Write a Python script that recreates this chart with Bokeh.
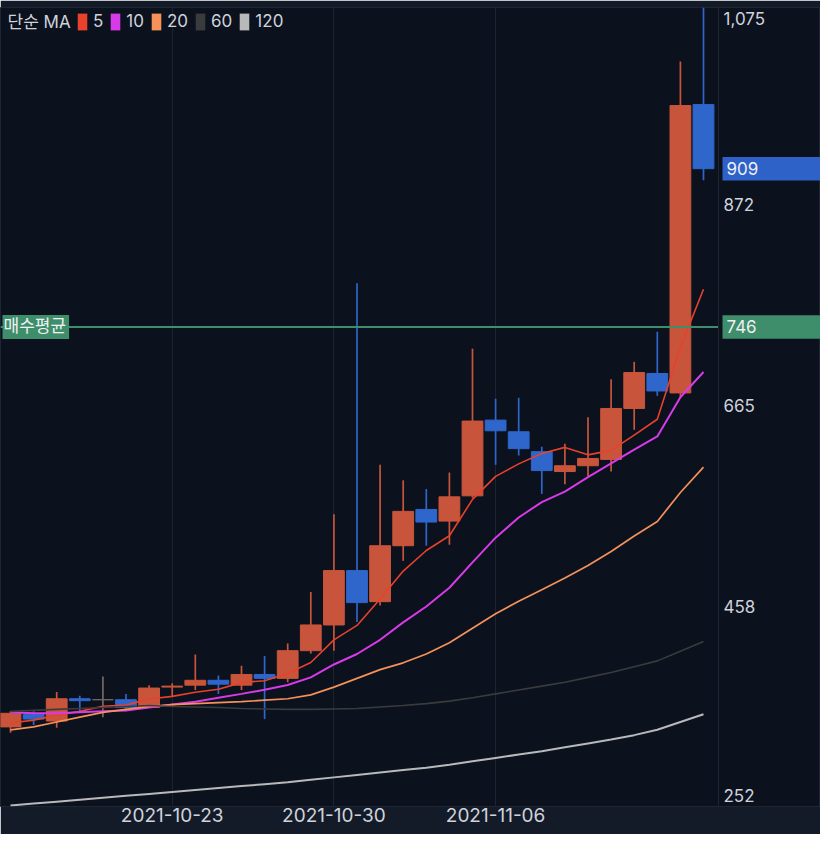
import pandas as pd
from bokeh.plotting import figure
from bokeh.models import (ColumnDataSource, Range1d, FixedTicker, Span, Label,
                          Legend, LegendItem)
from bokeh.core.properties import value
from bokeh.embed import file_html
from bokeh.resources import INLINE

# ---------------- data ----------------
dates = pd.date_range("2021-10-16", "2021-11-15", freq="D").strftime("%Y-%m-%d").tolist()

opens  = [334, 347, 340, 363, 362, 362, 354, 375, 377, 382, 377, 388, 384, 412.5, 439,
          495, 463, 520.6, 558, 546, 572, 650, 638, 617.5, 597, 603, 609.5, 662, 698, 678, 975]
highs  = [350, 350, 370, 366, 386, 368, 377, 379, 408.5, 387, 397, 407, 420, 473, 553,
          791, 604, 588, 579, 596, 723.6, 672, 673, 622.6, 625.6, 653, 692, 710, 741, 1019.5, 1075]
lows   = [328, 336, 333, 350, 344, 350, 354, 365, 372, 368, 372, 342, 380, 409.5, 412.5,
          442, 459, 505, 520.6, 521.6, 570, 604, 613.5, 574, 584, 592, 597, 640, 675, 673, 897]
closes = [348, 342, 363, 361, 362, 354, 374, 376, 382, 378, 388, 384, 412.5, 439, 495,
          462, 520.6, 556, 545, 571, 649, 639, 620.6, 598, 603, 610.5, 662, 699, 680, 974, 909]

ma5   = [338, 341, 346, 350, 355.2, 356.4, 362.8, 365.4, 369.6, 372.8, 379.6, 381.6, 388.9,
         400.3, 423.7, 438.5, 465.8, 494.5, 515.7, 530.9, 568.3, 592.0, 604.9, 615.5, 621.9,
         614.2, 618.8, 634.5, 650.9, 725.1, 784.8]
ma10  = [349, 348, 348, 349, 350, 351, 354, 357, 360, 364.0, 368.0, 372.2, 377.2, 385.0,
         398.3, 409.1, 423.7, 441.7, 458.0, 477.3, 503.4, 528.9, 549.7, 565.6, 576.4, 591.3,
         605.4, 619.7, 633.2, 673.5, 699.5]
ma20  = [331, 334, 339, 344, 349, 352, 355, 357, 358, 359, 360, 361.5, 363, 367, 375, 384,
         393, 400, 409, 420.7, 435.7, 450.6, 463.4, 475.3, 487.3, 500.2, 514.6, 530.7, 545.6,
         575.4, 601.5]
ma60  = [350, 351, 352, 353, 354, 355, 356, 355, 354.5, 354, 353, 352.5, 352, 352, 352.5,
         353, 354.5, 356, 358, 360.5, 364, 368, 372, 376, 380, 385, 390, 396, 402, 412, 422]
ma120 = [253, 255, 257, 259, 261, 263, 265, 267, 269, 271, 273, 275, 277, 279.5, 282, 284.5,
         287, 289.5, 292, 295, 298.5, 302, 305.5, 309, 313, 317, 321, 325.5, 331, 339, 347]

ma_labels = ["5", "10", "20", "60", "120"]
date_ticks = ["2021-10-23", "2021-10-30", "2021-11-06"]
price_ticks = [252, 458, 665, 872, 1075]
avg_buy = 746
avg_buy_label = "매수평균"
legend_title = "단순 MA"

# ---------------- style / layout ----------------
BG = "#0b111d"
STRIP = "#141b28"
GRID = "#1c2432"
SEP = "#1e2634"
TXT = "#cfd3dc"
UP, DOWN, FLAT = "#c8553b", "#2f66cc", "#766860"
MA_COLORS = ["#e8412c", "#d83ae8", "#f4925a", "#3b3b3d", "#b9b9bb"]
MA_WIDTHS = [1.6, 2.0, 1.7, 1.6, 2.0]
GREEN = "#3e8e6c"
BLUE_TAG = "#2f62c8"
FONT = "Inter, 'Noto Sans CJK KR', sans-serif"
FS_PRICE = "17px"
FS_DATE = "19px"
FS_LEG = "17px"

W, H = 820, 834
MB_T, MB_B = 7, 28
FW, FH = W, H - MB_T - MB_B
DAY_PX = 23.1           # pixels per candle
PRICE_W = 102           # width of the price scale strip on the right
x_start = -10 / DAY_PX
x_end = x_start + FW / DAY_PX
x_sep = x_start + (FW - PRICE_W) / DAY_PX
ylo, yhi = min(price_ticks), max(price_ticks)
px_x = (x_end - x_start) / FW
px_y = (yhi - ylo) / FH

idx = list(range(len(dates)))
colors = [UP if c > o else DOWN if c < o else FLAT for o, c in zip(opens, closes)]
src = ColumnDataSource(dict(
    x=idx, o=opens, h=highs, l=lows, c=closes,
    top=[max(o, c) for o, c in zip(opens, closes)],
    bottom=[min(o, c) for o, c in zip(opens, closes)],
    color=colors,
))

p = figure(width=W, height=H,
           x_range=Range1d(x_start, x_end), y_range=Range1d(ylo, yhi),
           output_backend="svg", toolbar_location=None,
           min_border_left=0, min_border_right=0,
           min_border_top=MB_T, min_border_bottom=MB_B)
p.background_fill_color = BG
p.border_fill_color = STRIP
p.outline_line_color = SEP
p.yaxis.visible = False

# candles
p.segment(x0="x", y0="l", x1="x", y1="h", line_color="color", line_width=1.7, source=src)
p.vbar(x="x", width=0.9, top="top", bottom="bottom", fill_color="color",
       line_color="color", line_width=1, source=src)

# moving averages (+ zero-size swatch renderers so the legend shows filled boxes)
legend_items = []
for lbl, ys, col, lw in zip(ma_labels, [ma5, ma10, ma20, ma60, ma120], MA_COLORS, MA_WIDTHS):
    p.line(idx, ys, line_color=col, line_width=lw, name=f"MA{lbl}")
    sw = p.vbar(x=[idx[-1]], width=0, top=[ys[-1]], bottom=[ys[-1]],
                fill_color=col, line_color=None)
    legend_items.append(LegendItem(label=lbl, renderers=[sw]))

legend = Legend(items=legend_items, orientation="horizontal", location=(76, FH - 24.5),
                padding=0, margin=0, spacing=6, glyph_width=12, glyph_height=21,
                label_standoff=5, label_width=0, label_height=21,
                label_text_font=FONT, label_text_font_size=FS_LEG, label_text_color=TXT,
                background_fill_alpha=0, border_line_color=None)
p.add_layout(legend)

p.add_layout(Label(x=7, y=FH - 14.5, x_units="screen", y_units="screen", text=legend_title,
                   text_baseline="middle", text_font=FONT, text_font_size=FS_LEG,
                   text_color=TXT))

# price-scale strip on the right
p.add_layout(Span(location=x_sep, dimension="height", line_color=SEP, line_width=1))
pad = 11.5
ypos = [min(max(v, ylo + pad), yhi - pad) for v in price_ticks]
p.text(x=[x_sep + 5 * px_x] * len(price_ticks), y=ypos,
       text=[f"{v:,}" for v in price_ticks], text_baseline="middle", text_align="left",
       text_font=value(FONT), text_font_size=FS_PRICE, text_color=TXT)

tag_vals = [closes[-1], avg_buy]
tag_cols = [BLUE_TAG, GREEN]
half = 11.75 * px_y
p.quad(left=x_sep + 4 * px_x, right=x_end,
       bottom=[v - half for v in tag_vals], top=[v + half for v in tag_vals],
       fill_color=tag_cols, line_color=None)
p.text(x=[x_sep + 8 * px_x] * 2, y=tag_vals, text=[f"{v:,}" for v in tag_vals],
       text_baseline="middle", text_align="left", text_font=value(FONT),
       text_font_size=FS_PRICE, text_color="#eef0f4")

# average buy price line + tag on the left
p.segment(x0=x_start, x1=x_sep, y0=avg_buy, y1=avg_buy, line_color=GREEN, line_width=2)
p.add_layout(Label(x=2, x_units="screen", y=avg_buy, y_units="data", text=avg_buy_label,
                   text_baseline="middle", text_font=FONT, text_font_size="17px",
                   text_color="#eef2f0", background_fill_color=GREEN, padding=(1, 3, 1, 3)))

# x axis
xt = [dates.index(d) for d in date_ticks]
p.xaxis.ticker = FixedTicker(ticks=xt)
p.xaxis.major_label_overrides = {i: d for i, d in zip(xt, date_ticks)}
p.xaxis.major_tick_line_color = None
p.xaxis.major_tick_out = 0
p.xaxis.major_tick_in = 0
p.xaxis.minor_tick_line_color = None
p.xaxis.axis_line_color = None
p.xaxis.major_label_standoff = 1
p.xaxis.major_label_text_font = FONT
p.xaxis.major_label_text_font_size = FS_DATE
p.xaxis.major_label_text_color = TXT

p.xgrid.ticker = FixedTicker(ticks=xt)
p.xgrid.grid_line_color = GRID
p.ygrid.grid_line_color = None

open("out.html", "w").write(file_html(p, INLINE))
